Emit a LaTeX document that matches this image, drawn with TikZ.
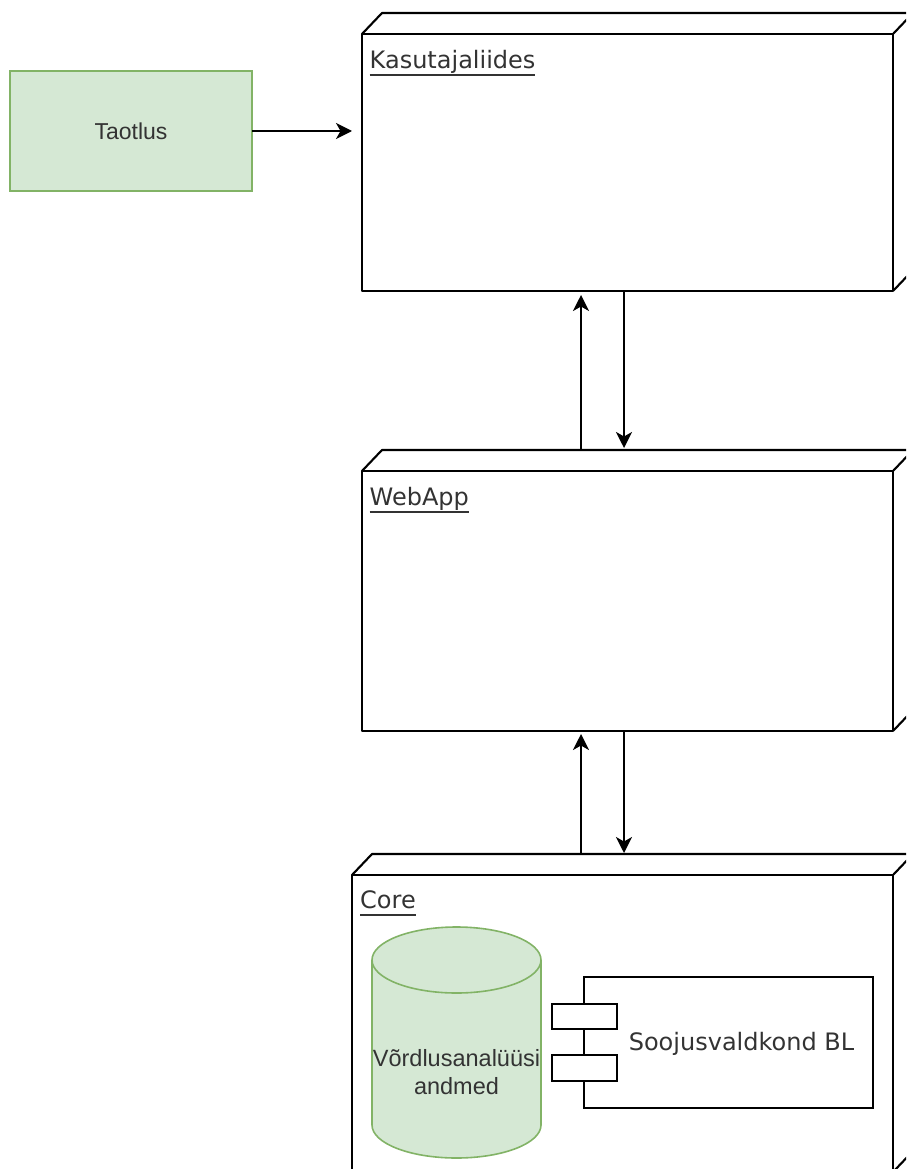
\documentclass[tikz,border=0pt]{standalone}
\usepackage{fontspec}
\setmainfont{DejaVu Sans}
\newfontfamily\arialfont{Liberation Sans}
\usetikzlibrary{arrows.meta,calc}
\definecolor{leaf}{HTML}{D5E8D4}
\definecolor{leafline}{HTML}{82B366}
\definecolor{ink}{HTML}{333333}
% underlined label with a thick rule
\newcommand\ultext[1]{\setbox0\hbox{#1}\rlap{\rule[-7.5pt]{\wd0}{1.8pt}}\box0}
% back faces of a 3D node box
\newcommand\cubeback[1]{%
  \draw[edge] (#1.north west) -- ++(20,-21) -- ($(#1.north east)+(20,-21)$)
      -- ($(#1.south east)+(20,-21)$) -- (#1.south east);
  \draw[edge] (#1.north east) -- ++(20,-21);}
\begin{document}
\begin{tikzpicture}[x=1pt,y=-1pt,
  edge/.style={line width=2.1pt, line join=round},
  front/.style={draw, edge, fill=white, inner sep=0pt, outer sep=0pt},
  arr/.style={line width=2pt, -{Stealth[length=16pt,width=16pt,inset=4.5pt]}},
  cubelabel/.style={anchor=base west, inner sep=0pt, text=ink,
    font=\fontsize{24}{29}\selectfont},
  greenbox/.style={draw=leafline, fill=leaf, line width=1.6pt, inner sep=0pt, outer sep=0pt,
    text=ink, font=\arialfont\fontsize{23}{28}\selectfont},
  plainbox/.style={draw, line width=2pt, fill=white, inner sep=0pt, outer sep=0pt}]
\clip (0,0) rectangle (906,1169);
\fill[white] (0,0) rectangle (906,1169);

% request
\node[greenbox, minimum width=242pt, minimum height=120pt] (taotlus) at (131,131) {Taotlus};

% user interface node
\node[front, minimum width=531pt, minimum height=257pt] (ui) at (627.5,162.5) {};
\cubeback{ui}
\node[cubelabel] (uilabel) at ($(ui.north west)+(7.5,34.5)$) {\ultext{Kasutajaliides}};

% web application node
\node[front, minimum width=531pt, minimum height=260pt] (web) at (627.5,601) {};
\cubeback{web}
\node[cubelabel] (weblabel) at ($(web.north west)+(7.5,34.5)$) {\ultext{WebApp}};

% core node
\node[front, minimum width=541pt, minimum height=297pt] (core) at (622.5,1023.5) {};
\cubeback{core}
\node[cubelabel] (corelabel) at ($(core.north west)+(8,33.5)$) {\ultext{Core}};

% database cylinder
\fill[leaf] (372,960) -- (372,1125)
  arc[start angle=180, end angle=360, x radius=84.5pt, y radius=33pt]
  -- (541,960)
  arc[start angle=0, end angle=180, x radius=84.5pt, y radius=33pt] -- cycle;
\draw[leafline, line width=1.6pt] (372,960) -- (372,1125)
  arc[start angle=180, end angle=360, x radius=84.5pt, y radius=33pt]
  -- (541,960)
  arc[start angle=0, end angle=180, x radius=84.5pt, y radius=33pt];
\draw[leafline, line width=1.6pt] (372,960)
  arc[start angle=180, end angle=360, x radius=84.5pt, y radius=33pt];
\node[align=center, inner sep=0pt, text=ink, font=\arialfont\fontsize{23.5}{28}\selectfont]
  (db) at (456.5,1072) {Võrdlusanalüüsi\\andmed};

% business logic component
\node[plainbox, minimum width=289pt, minimum height=131pt] (bl) at (728.5,1042.5) {};
\node[plainbox, minimum width=65pt, minimum height=25pt] (port1) at (584.5,1016.5) {};
\node[plainbox, minimum width=65pt, minimum height=26pt] (port2) at (584.5,1068) {};
\node[inner sep=0pt, text=ink, font=\fontsize{24}{29}\selectfont] (bltext) at (741.5,1044) {Soojusvaldkond BL};

% connectors
\draw[arr] (taotlus.east) -- ($(taotlus.east -| ui.west)+(-10,0)$);
\draw[arr] ($(web.north)+(-46.5,-21)$) -- ($(ui.south)+(-46.5,4)$);
\draw[arr] ($(ui.south)+(-3.5,0)$) -- ($(web.north)+(-3.5,-23)$);
\draw[arr] ($(core.north)+(-41.5,-21)$) -- ($(web.south)+(-46.5,3)$);
\draw[arr] ($(web.south)+(-3.5,0)$) -- ($(core.north)+(1.5,-22)$);
\end{tikzpicture}
\end{document}
